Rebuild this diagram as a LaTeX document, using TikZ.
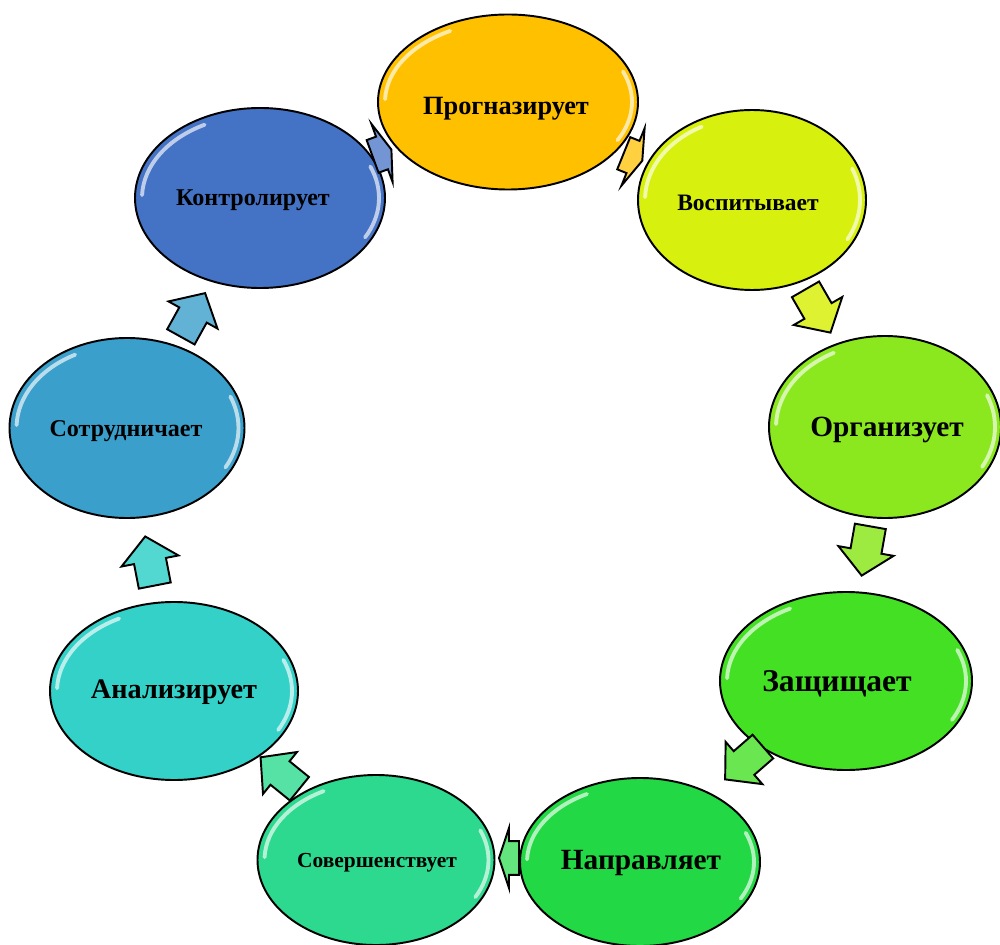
\documentclass[tikz,border=0pt]{standalone}
\usepackage{fontspec}
\setmainfont{Liberation Serif}
\usetikzlibrary{shapes.geometric,calc}
\definecolor{c1}{HTML}{FFC000}
\definecolor{c2}{HTML}{D8F00E}
\definecolor{c3}{HTML}{8CE81E}
\definecolor{c4}{HTML}{44E024}
\definecolor{c5}{HTML}{22D844}
\definecolor{c6}{HTML}{2CD98E}
\definecolor{c7}{HTML}{34D1C8}
\definecolor{c8}{HTML}{3A9FCB}
\definecolor{c9}{HTML}{4472C4}
\tikzset{
  bubble/.style={ellipse, draw=black, line width=1.1pt, inner sep=0pt},
  lbl/.style={font=\bfseries, text=black, inner sep=0pt},
  barrow/.style={draw=black, line width=1.1pt, line join=miter},
  glow/.style={draw=white, opacity=0.65, line width=2.2pt, line cap=round},
}
\newcommand\bub[6]{%
  \node[bubble, fill=#6, minimum width=#4*0.02cm, minimum height=#5*0.02cm] (#1) at (#2,#3) {};
  \draw[glow] ($(#1.center)+(-178:{#4/2-7} and {#5/2-7})$) arc (-178:-118:{#4/2-7} and {#5/2-7});
  \draw[glow] ($(#1.center)+(28:{#4/2-6} and {#5/2-6})$) arc (28:-22:{#4/2-6} and {#5/2-6});
}
\newcommand\blockarrow[7]{%
  \coordinate (#7) at (#1,#2);
  \draw[barrow, fill=#6, shift={(#7)}, rotate=#3]
    ({-#4/2},{-0.28*#5}) -- (0,{-0.28*#5}) -- (0,{-#5/2}) -- ({#4/2},0)
    -- (0,{#5/2}) -- (0,{0.28*#5}) -- ({-#4/2},{0.28*#5}) -- cycle;
}
\begin{document}
\begin{tikzpicture}[x=0.02cm,y=-0.02cm]
\useasboundingbox (0,0) rectangle (1000,945);
\bub{e1}{508}{102}{260}{175}{c1}
\bub{e2}{752}{200}{228}{180}{c2}
\bub{e3}{885}{427}{232}{182}{c3}
\bub{e4}{846}{681}{252}{178}{c4}
\bub{e5}{640}{862}{240}{168}{c5}
\bub{e6}{376}{860}{237}{170}{c6}
\bub{e7}{174}{691}{248}{178}{c7}
\bub{e8}{127}{428}{235}{180}{c8}
\bub{e9}{260}{198}{250}{180}{c9}
\node[lbl, font=\bfseries\fontsize{15}{18}\selectfont] (t1) at (506,109) {Прогназирует};
\node[lbl, font=\bfseries\fontsize{13.4}{16}\selectfont] (t2) at (748,203) {Воспитывает};
\node[lbl, font=\bfseries\fontsize{16.7}{20}\selectfont] (t3) at (887,430) {Организует};
\node[lbl, font=\bfseries\fontsize{18}{21}\selectfont] (t4) at (837,684) {Защищает};
\node[lbl, font=\bfseries\fontsize{16.7}{20}\selectfont] (t5) at (641,863) {Направляет};
\node[lbl, font=\bfseries\fontsize{12.2}{15}\selectfont] (t6) at (377,863) {Совершенствует};
\node[lbl, font=\bfseries\fontsize{16.1}{19}\selectfont] (t7) at (174,692) {Анализирует};
\node[lbl, font=\bfseries\fontsize{13.7}{16}\selectfont] (t8) at (126,431) {Сотрудничает};
\node[lbl, font=\bfseries\fontsize{13.7}{16}\selectfont] (t9) at (253,200) {Контролирует};
\blockarrow{382}{153}{20}{20}{62}{c9!75!white}{a1}
\blockarrow{633}{157}{-22}{20}{62}{c1!75!white}{a2}
\blockarrow{818}{311}{-60}{50}{56}{c2!85!white}{a3}
\blockarrow{866}{551}{-100}{50}{56}{c3!85!white}{a4}
\blockarrow{744}{763}{-139}{50}{56}{c4!80!white}{a5}
\blockarrow{509}{858}{180}{20}{60}{c5!70!white}{a6}
\blockarrow{280}{773}{141}{50}{54}{c6!80!white}{a7}
\blockarrow{150}{561}{101}{50}{58}{c7!85!white}{a8}
\blockarrow{193}{315}{61}{50}{56}{c8!80!white}{a9}
\end{tikzpicture}
\end{document}
